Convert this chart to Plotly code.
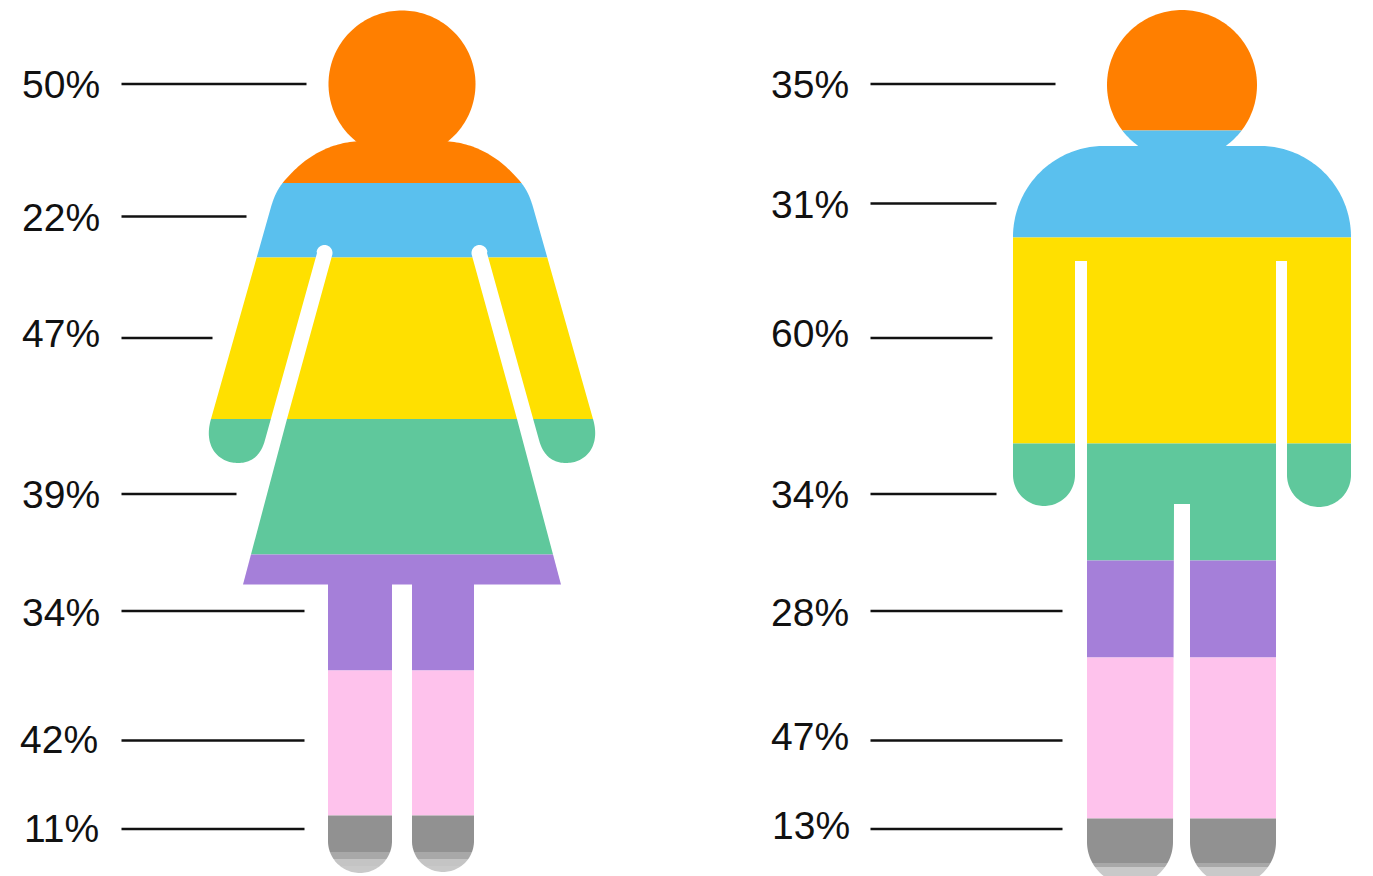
import math
import plotly.graph_objects as go

# ---- values
women_pct = [50, 22, 47, 39, 34, 42, 11]
men_pct = [35, 31, 60, 34, 28, 47, 13]

women_label_x = [22, 22, 22, 22, 22, 20, 24]
women_label_y = [88.5, 221, 337.5, 498, 616, 743, 832.5]
men_label_x = [771, 771, 771, 771, 771, 771, 772]
men_label_y = [88.5, 208, 337.5, 498, 616, 740, 829.5]

women_line_y = [84, 216.5, 338, 494, 611, 740.5, 829]
women_line_end = [306.5, 246.5, 212.5, 236.5, 304.5, 304.5, 304.5]
men_line_y = [84, 203.5, 338, 494, 611, 740.5, 829]
men_line_end = [1055.5, 996.5, 992.5, 996.5, 1062.5, 1062.5, 1062.5]

band_colors = ["#FF7F00", "#5AC0EE", "#FFE000", "#5FC89C", "#A57FD9", "#FEC2EC",
               "#919191", "#A8A8A8", "#C4C4C4", "#C9C9C9"]
women_bands = [0, 183, 257.5, 419, 554.5, 670.5, 815.5, 852, 859, 866, 880]
men_bands = [0, 130.5, 237.5, 443.5, 560.5, 657.5, 818.5, 863, 867, 867, 900]


# ---- silhouette helpers
def arc(cx, cy, r, a0, a1, n=60):
    return [(cx + r * math.cos(math.radians(a0 + (a1 - a0) * i / n)),
             cy + r * math.sin(math.radians(a0 + (a1 - a0) * i / n))) for i in range(n + 1)]


def bez(p0, p1, p2, p3, n=40):
    out = []
    for i in range(n + 1):
        t = i / n
        u = 1 - t
        out.append((u**3 * p0[0] + 3 * u * u * t * p1[0] + 3 * u * t * t * p2[0] + t**3 * p3[0],
                    u**3 * p0[1] + 3 * u * u * t * p1[1] + 3 * u * t * t * p2[1] + t**3 * p3[1]))
    return out


def clip_half(poly, y, keep_below):
    inside = (lambda p: p[1] >= y) if keep_below else (lambda p: p[1] <= y)
    out = []
    for i, a in enumerate(poly):
        b = poly[(i + 1) % len(poly)]
        if inside(a):
            out.append(a)
        if inside(a) != inside(b):
            t = (y - a[1]) / (b[1] - a[1])
            out.append((a[0] + t * (b[0] - a[0]), y))
    return out


def clip_band(poly, y0, y1):
    p = clip_half(poly, y0, True)
    return clip_half(p, y1, False) if p else p


# woman
WC = 402
w_left = (bez((365, 141), (330, 141), (304, 157), (283, 182.5))
          + bez((283, 182.5), (277, 190), (274, 197), (271, 207))
          + [(211, 419)]
          + bez((211, 419), (203, 446), (218, 463), (238, 463))
          + bez((238, 463), (252, 463), (261, 455), (265, 440))
          + [(317, 253)]
          + arc(324.5, 253, 8, 190, 370)
          + [(287, 419), (243, 584.5)])
w_body = w_left + [(2 * WC - x, y) for x, y in reversed(w_left)]
woman_parts = [
    arc(402, 84, 73.5, 0, 360, 180),
    w_body,
    [(392, 580)] + arc(360, 841, 32, 0, 180) + [(328, 580)],
    [(474, 580)] + arc(443, 841, 31, 0, 180) + [(412, 580)],
]

# man
man_body = (arc(1104, 237, 91, 270, 180)
            + arc(1044, 475, 31, 180, 0)
            + [(1075, 261), (1087, 261)]
            + arc(1130, 842, 43, 180, 0)
            + [(1174, 504), (1190, 504)]
            + arc(1233, 842, 43, 180, 0)
            + [(1276, 261), (1287, 261)]
            + arc(1319, 475, 32, 180, 0)
            + arc(1260, 237, 91, 0, -90))
man_parts = [arc(1182, 85, 75, 0, 360, 180), man_body]

fig = go.Figure()


def add_figure(parts, bands):
    for i, color in enumerate(band_colors):
        if bands[i + 1] <= bands[i]:
            continue
        for part in parts:
            p = clip_band(part, bands[i], bands[i + 1])
            if len(p) < 3:
                continue
            fig.add_trace(go.Scatter(
                x=[q[0] for q in p] + [p[0][0]], y=[q[1] for q in p] + [p[0][1]],
                mode="lines", fill="toself", fillcolor=color,
                line=dict(width=0, color=color, simplify=False),
                hoverinfo="skip", showlegend=False))


add_figure(woman_parts, women_bands)
add_figure(man_parts, men_bands)


def add_labels(pct, lx, ly, ends, line_y, start):
    for e, y in zip(ends, line_y):
        fig.add_trace(go.Scatter(x=[start, e], y=[y, y], mode="lines",
                                 line=dict(color="#111111", width=2.5),
                                 hoverinfo="skip", showlegend=False))
    fig.add_trace(go.Scatter(x=lx, y=ly, mode="text", text=[f"{v}%" for v in pct],
                             textposition="middle right",
                             textfont=dict(family="Liberation Sans", size=39, color="#111111"),
                             hoverinfo="skip", showlegend=False))


add_labels(women_pct, women_label_x, women_label_y, women_line_end, women_line_y, 121.5)
add_labels(men_pct, men_label_x, men_label_y, men_line_end, men_line_y, 870.5)

fig.update_layout(
    width=1373, height=876, autosize=False,
    margin=dict(l=0, r=0, t=0, b=0),
    paper_bgcolor="white", plot_bgcolor="white",
    xaxis=dict(range=[0, 1373], visible=False, fixedrange=True),
    yaxis=dict(range=[876, 0], visible=False, fixedrange=True),
)
fig.write_html("out.html", config={"displayModeBar": False},
               post_script="document.body.style.margin='0';document.body.style.overflow='hidden';")
